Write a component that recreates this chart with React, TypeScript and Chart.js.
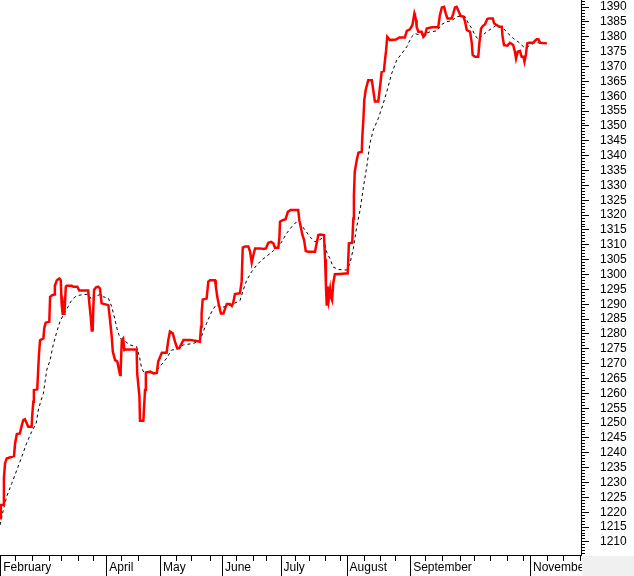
import React, { useEffect, useRef } from 'react';
import { Chart, registerables } from 'chart.js';

Chart.register(...registerables);

// x unit: trading session index from the start of February
const closeX = [0, 0.3, 1.2, 1.4, 1.8, 2.4, 5.0, 5.4, 6.0, 7.1, 7.8, 8.3, 8.9, 10.1, 11.3, 11.5, 11.9, 12.1, 13.3, 13.9, 14.3, 15.5, 15.8, 16.3, 17.6, 17.9, 18.7, 19.4, 19.6, 20.3, 21.2, 21.7, 22.0, 22.4, 22.6, 23.0, 23.5, 23.8, 25.6, 26.2, 27.6, 28.3, 31.5, 31.9, 32.4, 32.8, 33.0, 33.1, 33.3, 33.6, 34.3, 35.1, 35.7, 36.3, 38.7, 39.3, 39.9, 40.3, 41.1, 41.9, 42.5, 42.9, 43.1, 43.5, 44.0, 44.4, 45.0, 48.8, 49.0, 49.8, 50.0, 51.2, 51.5, 51.8, 52.1, 53.6, 54.8, 56.0, 56.5, 57.8, 59.5, 60.1, 60.7, 61.7, 62.5, 63.3, 64.0, 64.9, 65.5, 67.9, 69.6, 71.4, 71.8, 72.0, 72.4, 73.8, 74.4, 75.0, 76.8, 77.1, 77.6, 78.2, 78.9, 79.8, 80.4, 81.0, 82.1, 82.8, 83.3, 83.9, 85.7, 86.3, 86.7, 87.5, 88.7, 89.3, 89.9, 90.5, 91.1, 92.9, 94.0, 95.0, 95.8, 96.8, 97.6, 98.2, 99.4, 99.8, 100.0, 101.0, 102.0, 102.8, 103.8, 106.5, 106.9, 107.4, 108.0, 108.6, 109.2, 110.1, 112.5, 113.1, 113.7, 114.3, 115.7, 116.1, 116.4, 116.7, 117.0, 117.4, 117.9, 118.2, 118.6, 119.0, 119.6, 121.4, 124.2, 124.6, 125.8, 126.2, 126.4, 126.7, 127.4, 128.0, 129.2, 129.4, 129.8, 130.1, 130.6, 131.5, 132.8, 133.3, 133.9, 135.1, 135.5, 136.0, 136.3, 137.1, 137.5, 137.9, 138.3, 139.3, 141.4, 142.6, 144.6, 145.3, 146.4, 147.3, 148.0, 148.2, 148.6, 148.8, 149.4, 150.6, 151.2, 151.8, 152.4, 154.2, 156.5, 157.1, 157.8, 158.6, 159.2, 159.8, 161.3, 161.9, 162.5, 163.1, 163.9, 164.5, 165.5, 166.1, 166.7, 167.9, 168.5, 168.8, 169.6, 170.8, 171.2, 171.8, 172.4, 173.2, 174.0, 174.6, 176.0, 176.5, 177.4, 178.3, 179.2, 179.5, 180.0, 181.2, 182.1, 182.8, 183.3, 183.9, 184.3, 184.9, 185.7, 186.3, 186.9, 187.3, 187.8, 188.3, 188.9, 190.5, 191.1, 191.7, 192.3, 192.9, 195.3];
const closeY = [1218.0, 1222.4, 1222.4, 1231.4, 1236.5, 1238.1, 1238.9, 1243.2, 1246.3, 1246.5, 1249.3, 1251.0, 1251.3, 1248.8, 1248.8, 1252.4, 1257.2, 1261.1, 1261.4, 1272.9, 1277.9, 1278.5, 1281.9, 1283.8, 1284.1, 1292.5, 1293.1, 1293.3, 1296.2, 1298.1, 1298.7, 1298.1, 1290.3, 1286.4, 1289.2, 1286.4, 1295.9, 1296.2, 1296.2, 1295.9, 1295.9, 1294.6, 1294.6, 1290.3, 1285.8, 1280.8, 1284.7, 1280.8, 1288.0, 1294.8, 1295.7, 1295.9, 1295.3, 1290.3, 1289.7, 1284.7, 1279.1, 1274.0, 1271.2, 1270.7, 1267.9, 1266.2, 1267.9, 1277.9, 1278.5, 1274.6, 1274.8, 1274.8, 1266.7, 1258.9, 1250.8, 1250.8, 1256.1, 1261.1, 1267.0, 1267.3, 1266.7, 1266.9, 1270.7, 1273.7, 1273.7, 1277.9, 1280.8, 1280.2, 1277.4, 1275.2, 1275.2, 1276.8, 1278.0, 1278.0, 1277.7, 1277.4, 1282.4, 1286.9, 1291.6, 1291.9, 1297.6, 1298.1, 1298.1, 1295.9, 1292.5, 1289.7, 1286.9, 1286.9, 1288.6, 1290.1, 1290.1, 1289.4, 1290.5, 1293.4, 1293.7, 1297.6, 1309.1, 1309.4, 1309.4, 1307.7, 1304.0, 1306.6, 1308.8, 1308.8, 1308.6, 1308.8, 1310.7, 1311.0, 1310.5, 1309.0, 1309.0, 1312.7, 1317.8, 1318.3, 1318.6, 1321.1, 1321.7, 1321.7, 1318.3, 1316.1, 1313.3, 1311.6, 1307.9, 1307.7, 1307.7, 1310.5, 1313.3, 1313.5, 1313.3, 1305.2, 1296.5, 1289.5, 1296.0, 1291.5, 1295.0, 1292.5, 1291.4, 1297.0, 1300.1, 1300.2, 1300.4, 1310.5, 1310.7, 1318.9, 1326.7, 1334.6, 1338.5, 1341.0, 1341.3, 1346.4, 1352.5, 1358.7, 1362.1, 1365.4, 1365.4, 1362.1, 1358.2, 1358.2, 1361.5, 1365.4, 1368.2, 1368.5, 1372.2, 1375.5, 1380.0, 1378.9, 1379.1, 1379.8, 1379.8, 1382.0, 1382.5, 1384.0, 1387.9, 1387.3, 1385.6, 1383.4, 1381.7, 1381.7, 1380.0, 1380.6, 1382.8, 1383.2, 1383.2, 1387.3, 1389.9, 1390.1, 1387.9, 1386.2, 1386.2, 1387.9, 1389.9, 1390.1, 1388.4, 1387.0, 1386.8, 1385.1, 1382.3, 1381.7, 1377.8, 1373.9, 1373.3, 1373.3, 1377.8, 1382.8, 1383.6, 1384.2, 1386.0, 1386.2, 1386.2, 1384.5, 1384.0, 1383.4, 1383.4, 1380.0, 1377.2, 1377.0, 1378.0, 1377.6, 1377.2, 1375.0, 1372.7, 1375.0, 1375.3, 1373.3, 1373.3, 1371.6, 1373.9, 1377.8, 1378.0, 1378.0, 1378.7, 1379.2, 1379.2, 1378.0, 1377.8];

const maX = [0, 1.2, 2.4, 4.2, 6.0, 7.8, 9.5, 11.3, 12.9, 13.7, 14.5, 15.5, 16.7, 17.9, 19.0, 20.3, 21.4, 22.6, 23.8, 25.3, 26.8, 28.6, 31.5, 32.8, 33.9, 35.7, 36.9, 38.7, 39.9, 41.1, 41.9, 42.9, 44.6, 46.4, 48.8, 49.8, 50.6, 51.4, 53.0, 55.4, 57.1, 59.5, 61.3, 63.1, 65.5, 69.0, 71.4, 72.6, 73.8, 75.6, 77.1, 79.2, 81.0, 83.3, 85.7, 86.9, 88.1, 89.9, 91.7, 93.5, 95.3, 97.6, 98.8, 100.6, 102.4, 104.2, 106.0, 107.1, 108.9, 110.7, 112.5, 114.3, 115.5, 116.7, 117.9, 119.0, 120.8, 123.8, 125.0, 126.2, 127.4, 128.6, 129.8, 131.0, 132.1, 133.3, 135.1, 136.9, 138.3, 139.9, 141.7, 143.5, 145.3, 147.0, 148.2, 150.0, 151.8, 153.6, 156.0, 157.8, 159.5, 161.3, 163.1, 164.9, 166.1, 167.3, 168.5, 169.6, 170.8, 172.0, 173.8, 175.6, 177.4, 178.6, 179.8, 181.5, 183.3, 185.1, 186.9, 188.1, 189.3, 191.1, 192.9, 195.3];
const maY = [1215.7, 1220.8, 1225.3, 1229.7, 1234.2, 1238.7, 1243.2, 1247.1, 1249.9, 1254.4, 1257.2, 1260.0, 1267.9, 1271.2, 1276.3, 1280.8, 1284.1, 1286.4, 1288.3, 1290.9, 1292.5, 1293.1, 1293.4, 1291.4, 1292.5, 1293.3, 1292.5, 1292.0, 1289.2, 1284.7, 1281.3, 1278.5, 1277.6, 1276.3, 1275.7, 1272.3, 1268.4, 1267.1, 1267.3, 1267.0, 1269.0, 1271.8, 1274.6, 1274.8, 1276.3, 1276.8, 1277.7, 1280.8, 1283.6, 1287.5, 1289.7, 1288.9, 1289.4, 1290.1, 1291.2, 1294.8, 1298.1, 1301.0, 1303.2, 1304.9, 1306.2, 1308.0, 1308.8, 1311.0, 1313.9, 1316.1, 1317.8, 1317.4, 1315.0, 1312.7, 1311.0, 1311.8, 1312.5, 1307.5, 1305.2, 1302.5, 1301.7, 1301.5, 1303.8, 1308.8, 1316.1, 1321.7, 1329.5, 1336.3, 1344.1, 1348.6, 1352.5, 1357.6, 1362.1, 1367.7, 1372.2, 1374.4, 1376.7, 1380.0, 1381.1, 1380.6, 1381.1, 1381.7, 1382.0, 1384.2, 1385.1, 1385.4, 1386.8, 1387.0, 1386.8, 1384.5, 1382.8, 1380.6, 1379.1, 1380.2, 1381.7, 1382.8, 1384.0, 1383.4, 1382.8, 1381.1, 1379.5, 1378.3, 1376.7, 1376.4, 1377.2, 1378.0, 1378.0, 1377.8];

const monthTicks = [0.3, 38.2, 57.4, 79.5, 100.4, 124.0, 146.7, 189.5];
const monthLabels = ['February', 'April', 'May', 'June', 'July', 'August', 'September', 'November'];
const weekTicks = [5.6, 11.5, 17.5, 22.0, 28.0, 33.3, 43.5, 49.4, 63.1, 68.5, 75.0, 84.5, 90.5, 95.3, 105.4, 110.7, 116.3, 121.7, 130.0, 136.0, 141.3, 152.0, 158.0, 164.5, 169.3, 175.3, 181.2, 187.1, 195.5, 201.4, 207.4];

const xMin = 0;
const xMax = 207.5;
const yMin = 1205.6;
const yMax = 1392.4;
const yLabelStep = 5;

const FONT = { family: '"Liberation Sans", Arial, sans-serif', size: 12 };

const monthIndex = (v: number) => monthTicks.findIndex((m) => Math.abs(m - v) < 1e-6);

const bgPlugin = {
  id: 'bgPlugin',
  beforeDraw(chart: any) {
    const { ctx, width, height } = chart;
    ctx.save();
    ctx.fillStyle = '#ffffff';
    ctx.fillRect(0, 0, width, height);
    ctx.restore();
  },
  afterDraw(chart: any) {
    const { ctx, width, height, chartArea } = chart;
    ctx.save();
    ctx.fillStyle = '#f0f0f0';
    ctx.fillRect(chartArea.right + 1, chartArea.bottom + 1, width - chartArea.right - 1, height - chartArea.bottom - 1);
    ctx.restore();
  },
};

export default function App() {
  const ref = useRef<HTMLCanvasElement>(null);
  useEffect(() => {
    const closeData = closeX.map((x, i) => ({ x, y: closeY[i] }));
    const maData = maX.map((x, i) => ({ x, y: maY[i] }));
    const chart = new Chart(ref.current as HTMLCanvasElement, {
      type: 'line',
      data: {
        datasets: [
          {
            data: closeData,
            borderColor: '#ff0000',
            borderWidth: 2.5,
            pointRadius: 0,
            tension: 0,
            fill: false,
          },
          {
            data: maData,
            borderColor: '#000000',
            borderWidth: 1,
            borderDash: [3, 3],
            pointRadius: 0,
            tension: 0,
            fill: false,
          },
        ],
      },
      options: {
        animation: false,
        responsive: false,
        devicePixelRatio: 1,
        layout: { padding: 0 },
        plugins: { legend: { display: false }, tooltip: { enabled: false } },
        scales: {
          x: {
            type: 'linear',
            position: 'bottom',
            min: xMin,
            max: xMax,
            afterBuildTicks: (s: any) => {
              const all = [...monthTicks, ...weekTicks].sort((a, b) => a - b);
              s.ticks = all.map((value) => ({ value }));
            },
            afterFit: (s: any) => {
              s.height = 21;
              s.paddingLeft = 0;
              s.paddingRight = 0;
            },
            border: { display: true, color: '#000000', width: 1 },
            grid: {
              drawOnChartArea: false,
              drawTicks: true,
              tickLength: 21,
              tickWidth: 1,
              tickColor: '#000000',
              tickBorderDash: (ctx: any) => (monthIndex(ctx.tick ? ctx.tick.value : -1) >= 0 ? [] : [5, 100]),
            },
            ticks: {
              autoSkip: false,
              maxRotation: 0,
              minRotation: 0,
              align: 'start',
              padding: -16,
              color: '#000000',
              font: FONT,
              callback: (v: any) => {
                const i = monthIndex(Number(v));
                return i >= 0 ? '\u2009' + monthLabels[i] : '';
              },
            },
          },
          y: {
            type: 'linear',
            position: 'right',
            min: yMin,
            max: yMax,
            afterBuildTicks: (s: any) => {
              const t = [] as { value: number }[];
              for (let v = Math.ceil(yMin); v <= Math.floor(yMax); v++) t.push({ value: v });
              s.ticks = t;
            },
            afterFit: (s: any) => {
              s.width = 53;
              s.paddingTop = 0;
              s.paddingBottom = 0;
            },
            border: { display: true, color: '#000000', width: 1 },
            grid: {
              drawOnChartArea: false,
              drawTicks: true,
              tickLength: 8,
              tickColor: '#000000',
              tickBorderDash: (ctx: any) => (ctx.tick && ctx.tick.value % yLabelStep === 0 ? [] : [3, 100]),
            },
            ticks: {
              autoSkip: false,
              padding: 11,
              color: '#000000',
              font: FONT,
              callback: (v: any) => (Number(v) % yLabelStep === 0 ? String(v) : ''),
            },
          },
        },
      },
      plugins: [bgPlugin],
    } as any);
    return () => chart.destroy();
  }, []);
  return (
    <div style={{ position: 'fixed', left: 0, top: 0, width: 634, height: 576, background: '#ffffff' }}>
      <canvas ref={ref} width={634} height={576} style={{ display: 'block', width: 634, height: 576 }} />
    </div>
  );
}
